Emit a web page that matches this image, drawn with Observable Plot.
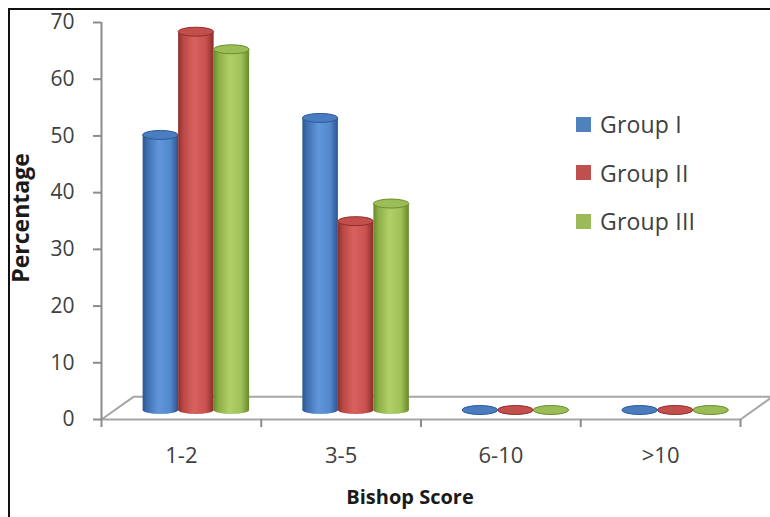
<!DOCTYPE html>
<html>
<head>
<meta charset="utf-8">
<script src="https://cdn.jsdelivr.net/npm/d3@7"></script>
<script src="https://cdn.jsdelivr.net/npm/@observablehq/plot@0.6"></script>
<style>
  body { margin: 0; background: #fff; }
  #chart { position: relative; width: 770px; height: 517px; overflow: hidden; font-family: "Open Sans", sans-serif; }
  #chart svg { position: absolute; left: 0; top: 0; }
  #frame { position: absolute; left: 8px; top: 8px; right: -10px; bottom: -10px;
           border-top: 2px solid #111; border-left: 2px solid #111; pointer-events: none; }
  #legend { position: absolute; left: 576px; top: 100px; font-size: 23px; letter-spacing: 0.2px; color: #404040; }
  #legend .row { display: flex; align-items: center; height: 48.5px; }
  #legend .sw { width: 15px; height: 15px; margin-right: 9px; }
</style>
</head>
<body>
<div id="chart"><div id="frame"></div></div>
<script>
// Bishop score distribution per study group (%)
const categories = ["1-2", "3-5", "6-10", ">10"];
const groups = ["Group I", "Group II", "Group III"];
const groupI = [48.5, 51.5, 0, 0];
const groupII = [66.7, 33.3, 0, 0];
const groupIII = [63.6, 36.4, 0, 0];
const yTicks = [0, 10, 20, 30, 40, 50, 60, 70];

const seriesValues = [groupI, groupII, groupIII];
const swatch = ["#4f81bd", "#c0504d", "#9bbb59"];
// cylinder shading: dark edge, body, highlight, body, dark edge
const shades = [
  ["#2c5590", "#3f70b2", "#6196da", "#5288cc", "#2b548f"],
  ["#8c2f2c", "#b94744", "#d9625f", "#c9524f", "#8a2e2b"],
  ["#688a2c", "#8dae48", "#afd167", "#9fc158", "#67892b"]
];
const capFill = ["#4a7cc0", "#c44e4b", "#9abd55"];
const capRim = ["#2d5a98", "#8e2f2c", "#6c8c32"];

// one row per bar
const rows = seriesValues.flatMap((vals, gi) =>
  categories.map((c, ci) => ({category: c, ci, group: groups[gi], gi, value: vals[ci]})));

// clustered columns with a 150% gap between clusters
const barW = 1 / (groups.length + 1.5);
const bx1 = d => d.ci + 0.75 * barW + d.gi * barW;
const bx2 = d => bx1(d) + barW;

// pseudo-3D floor depth (in scale units) and bar offset (px)
const depthX = 0.2, depthY = 4;
const off = {dx: 15, dy: -9};
const n = categories.length;
const floor = [
  {x: 0, y: 0}, {x: n, y: 0}, {x: n + depthX, y: depthY}, {x: depthX, y: depthY}, {x: 0, y: 0}
];

const axisGray = "#8c8c8c";
const textGray = "#404040";

const barMarks = groups.flatMap((g, gi) => {
  const data = rows.filter(d => d.gi === gi);
  const url = `url(#cyl-${gi})`;
  return [
    Plot.rect(data, {x1: bx1, x2: bx2, y1: 0, y2: "value", fill: url, ...off}),
    Plot.rect(data, {x1: bx1, x2: bx2, y1: 0, y2: 0, insetTop: -4, insetBottom: -4,
                     rx: 99, ry: 99, fill: url, ...off}),
    Plot.rect(data, {x1: bx1, x2: bx2, y1: "value", y2: "value", insetTop: -4.5, insetBottom: -4.5,
                     rx: 99, ry: 99, fill: capFill[gi], stroke: capRim[gi], strokeWidth: 1, ...off})
  ];
});

const chart = Plot.plot({
  width: 770,
  height: 517,
  marginTop: 22,
  marginBottom: 98,
  marginLeft: 101,
  marginRight: 30,
  style: {fontFamily: "Open Sans, sans-serif", fontSize: "20px", background: "transparent", overflow: "visible"},
  x: {type: "linear", domain: [0, n]},
  y: {domain: [0, 70]},
  marks: [
    Plot.line(floor, {x: "x", y: "y", stroke: "#a6a6a6", strokeWidth: 2}),
    Plot.ruleX([0], {y1: 0, y2: 70, stroke: axisGray, strokeWidth: 2}),
    Plot.axisY(yTicks, {tickSize: 8, tickPadding: 19, stroke: axisGray, strokeWidth: 2,
                        fill: textGray, fontSize: 21, label: null}),
    Plot.axisX(d3.range(n + 1), {tickSize: 8, tickFormat: () => "", stroke: axisGray,
                                 strokeWidth: 2, label: null}),
    Plot.axisX(categories.map((c, i) => i + 0.5), {tickSize: 0, tickPadding: 28,
               tickFormat: v => categories[Math.floor(v)], fill: textGray, fontSize: 22, label: null}),
    ...barMarks,
    Plot.text(["Percentage"], {text: d => d, frameAnchor: "left", textAnchor: "middle", rotate: -90,
                               dx: -80, dy: -3, fontSize: 23, fontWeight: "bold", fill: "#1a1a1a"}),
    Plot.text(["Bishop Score"], {text: d => d, frameAnchor: "bottom", dx: -11, dy: 84,
                                 fontSize: 20, fontWeight: "bold", fill: "#1a1a1a"})
  ]
});

// horizontal shading gradients for the cylinders
const defs = d3.select(chart).insert("defs", ":first-child");
shades.forEach((s, gi) => {
  const lg = defs.append("linearGradient").attr("id", `cyl-${gi}`)
    .attr("x1", 0).attr("x2", 1).attr("y1", 0).attr("y2", 0);
  [0, 0.14, 0.45, 0.78, 1].forEach((o, k) =>
    lg.append("stop").attr("offset", o).attr("stop-color", s[k]));
});

const root = document.getElementById("chart");
root.insertBefore(chart, root.firstChild);

// legend
const legend = d3.select(root).append("div").attr("id", "legend");
groups.forEach((g, gi) => {
  const row = legend.append("div").attr("class", "row");
  row.append("div").attr("class", "sw").style("background", swatch[gi]);
  row.append("span").text(g);
});
</script>
</body>
</html>
